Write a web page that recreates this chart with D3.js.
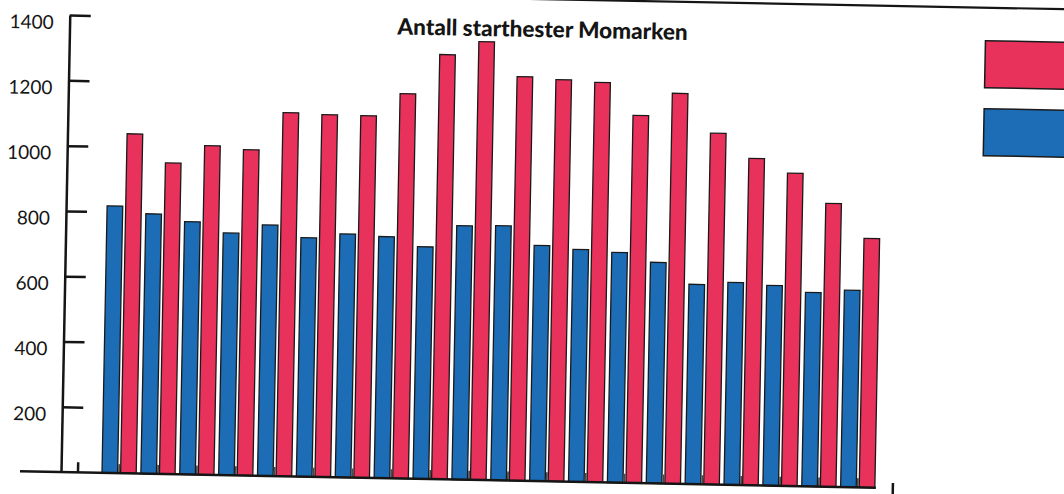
<!DOCTYPE html>
<html>
<head>
<meta charset="utf-8">
<script src="https://cdn.jsdelivr.net/npm/d3@7"></script>
<style>
    body { margin: 0; background: #fff; }
    svg { display: block; }
    .axis path, .axis line { stroke: #151515; stroke-width: 2.5; }
    .axis text { font-family: Lato, sans-serif; font-size: 19px; fill: #151515; }
</style>
</head>
<body>
<script>
//chart values
var categories = ["1", "2", "3", "4", "5", "6", "7", "8", "9", "10",
    "11", "12", "13", "14", "15", "16", "17", "18", "19", "20"];
var blueValues = [818, 796, 774, 742, 769, 732, 746, 740, 711, 778,
    780, 722, 712, 705, 677, 612, 620, 613, 594, 603];
var redValues = [1040, 953, 1008, 998, 1114, 1110, 1109, 1179, 1301, 1343,
    1238, 1231, 1225, 1126, 1196, 1076, 1001, 958, 868, 763];
var seriesKeys = ["blue", "red"];
var yTicks = [200, 400, 600, 800, 1000, 1200, 1400];
var title = "Antall starthester Momarken";

var colors = { blue: "#1c6db6", red: "#e8325c" };

var width = 1064,
    height = 494;

var svg = d3.select("body")
    .append("svg")
    .attr("width", width)
    .attr("height", height);

svg.append("rect")
    .attr("width", width)
    .attr("height", height)
    .attr("fill", "#fff");

//the printed chart is scanned a little askew
var chart = svg.append("g")
    .attr("transform", "rotate(1.1, 61, 472)");

var x0 = d3.scaleBand()
    .domain(categories)
    .range([102, 875])
    .paddingInner(0.12)
    .paddingOuter(0);

var x1 = d3.scaleBand()
    .domain(seriesKeys)
    .range([0, x0.bandwidth()])
    .paddingInner(0.16);

var y = d3.scaleLinear()
    .domain([0, 1400])
    .range([472, 15]);

//build rows for each group
var rows = categories.map(function (c, i) {
    return { cat: c, blue: blueValues[i], red: redValues[i] };
});

//frame line along the top
chart.append("line")
    .attr("x1", -50).attr("x2", 1250)
    .attr("y1", -10).attr("y2", -10)
    .attr("stroke", "#151515")
    .attr("stroke-width", 2.2);

//title
chart.append("text")
    .attr("x", 534)
    .attr("y", 28)
    .attr("text-anchor", "middle")
    .style("font-family", "Lato, sans-serif")
    .style("font-weight", "900")
    .style("font-size", "22.5px")
    .style("fill", "#151515")
    .text(title);

//bars
var groups = chart.selectAll(".group")
    .data(rows)
    .enter()
    .append("g")
    .attr("class", "group")
    .attr("transform", function (d) {
        return "translate(" + x0(d.cat) + ",0)";
    });

groups.selectAll(".bar")
    .data(function (d) {
        return seriesKeys.map(function (k) { return { key: k, value: d[k] }; });
    })
    .enter()
    .append("rect")
    .attr("class", "bar")
    .attr("x", function (d) { return x1(d.key); })
    .attr("width", x1.bandwidth())
    .attr("y", function (d) { return y(d.value); })
    .attr("height", function (d) { return y(0) - y(d.value); })
    .attr("fill", function (d) { return colors[d.key]; })
    .attr("stroke", "#1a1a1a")
    .attr("stroke-width", 1.3);

//little dark shadow at the foot of the gap between the two bars
groups.append("rect")
    .attr("x", x1("blue") + x1.bandwidth() + 0.6)
    .attr("width", x1.step() - x1.bandwidth() - 1.2)
    .attr("y", y(0) - 9)
    .attr("height", 9)
    .attr("fill", "#4a4a4a");

//y axis
var yAxis = d3.axisLeft(y)
    .tickValues(yTicks)
    .tickFormat(d3.format("d"))
    .tickSizeInner(-21)
    .tickSizeOuter(0)
    .tickPadding(16);

var axis = chart.append("g")
    .attr("class", "axis")
    .attr("transform", "translate(61,0)")
    .call(yAxis);

axis.selectAll("text").attr("dy", "0.72em");

//baseline with its two small ticks
chart.append("line")
    .attr("x1", 20).attr("x2", 876)
    .attr("y1", y(0)).attr("y2", y(0))
    .attr("stroke", "#151515")
    .attr("stroke-width", 2.5);

chart.append("line")
    .attr("x1", 78).attr("x2", 78)
    .attr("y1", y(0) - 10).attr("y2", y(0))
    .attr("stroke", "#151515")
    .attr("stroke-width", 2.5);

chart.append("line")
    .attr("x1", 893).attr("x2", 893)
    .attr("y1", y(0) - 5).attr("y2", y(0) + 40)
    .attr("stroke", "#151515")
    .attr("stroke-width", 2.5);

//legend boxes (cut off at the right edge)
chart.selectAll(".legendBox")
    .data(["red", "blue"])
    .enter()
    .append("rect")
    .attr("class", "legendBox")
    .attr("x", 977)
    .attr("y", function (d, i) { return 23 + i * 68; })
    .attr("width", 160)
    .attr("height", 47)
    .attr("fill", function (d) { return colors[d]; })
    .attr("stroke", "#1a1a1a")
    .attr("stroke-width", 1.5);
</script>
</body>
</html>
